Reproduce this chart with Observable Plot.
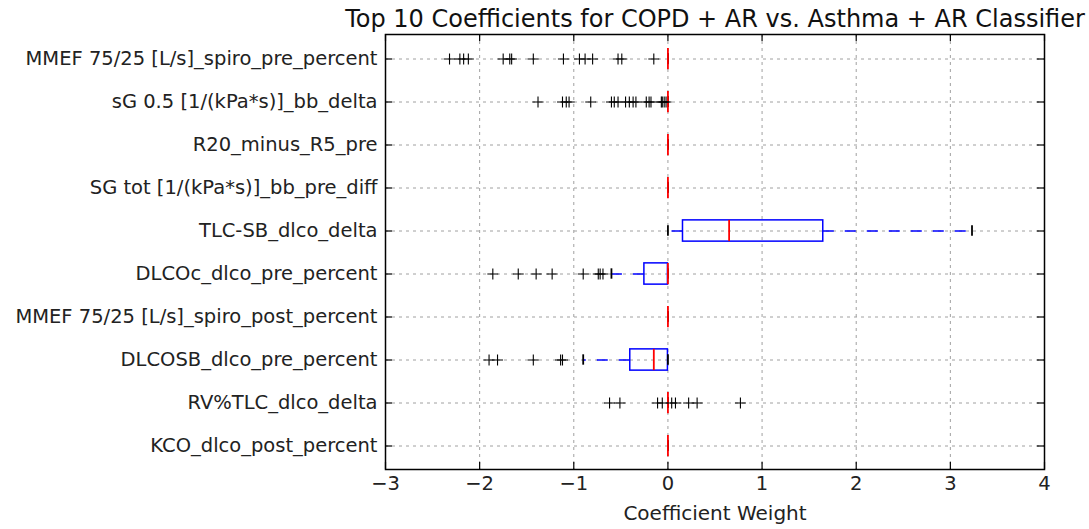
<!DOCTYPE html>
<html>
<head>
<meta charset="utf-8">
<script src="https://cdn.jsdelivr.net/npm/d3@7"></script>
<script src="https://cdn.jsdelivr.net/npm/@observablehq/plot@0.6"></script>
<style>
  html, body { margin: 0; padding: 0; background: #fff; }
</style>
</head>
<body>
<div id="chart"></div>
<script>
const categories = [
  "MMEF 75/25 [L/s]_spiro_pre_percent",
  "sG 0.5 [1/(kPa*s)]_bb_delta",
  "R20_minus_R5_pre",
  "SG tot [1/(kPa*s)]_bb_pre_diff",
  "TLC-SB_dlco_delta",
  "DLCOc_dlco_pre_percent",
  "MMEF 75/25 [L/s]_spiro_post_percent",
  "DLCOSB_dlco_pre_percent",
  "RV%TLC_dlco_delta",
  "KCO_dlco_post_percent"
];
const q1        = [0, 0, 0, 0, 0.16, -0.25, 0, -0.40, 0, 0];
const medians   = [0, 0, 0, 0, 0.65,  0,    0, -0.15, 0, 0];
const q3        = [0, 0, 0, 0, 1.65,  0,    0,  0,    0, 0];
const whiskerLo = [0, 0, 0, 0, 0.00, -0.60, 0, -0.90, 0, 0];
const whiskerHi = [0, 0, 0, 0, 3.23,  0,    0,  0,    0, 0];
const outliers = [
  [-2.32, -2.21, -2.17, -2.12, -1.75, -1.68, -1.66, -1.43, -1.11, -0.94, -0.88, -0.80, -0.53, -0.49, -0.15],
  [-1.38, -1.12, -1.08, -1.05, -0.82, -0.60, -0.57, -0.53, -0.45, -0.41, -0.37, -0.34, -0.23, -0.20, -0.18, -0.07, -0.06, -0.04, -0.02],
  [],
  [],
  [],
  [-1.86, -1.59, -1.40, -1.23, -0.90, -0.74, -0.72, -0.69],
  [],
  [-1.90, -1.81, -1.43, -1.14, -1.12],
  [-0.62, -0.51, -0.11, -0.06, 0.04, 0.08, 0.22, 0.31, 0.77],
  []
];
const xTicks = [-3, -2, -1, 0, 1, 2, 3, 4];
const titleText = "Top 10 Coefficients for COPD + AR vs. Asthma + AR Classifier";
const xLabel = "Coefficient Weight";

const boxes = categories.map((c, i) => ({
  cat: c, q1: q1[i], med: medians[i], q3: q3[i], lo: whiskerLo[i], hi: whiskerHi[i]
}));
const fliers = categories.flatMap((c, i) => outliers[i].map(v => ({cat: c, value: v})));

const W = 1089, H = 529;
const mL = 385, mR = 45, mT = 34, mB = 60;
const frameW = W - mL - mR, frameH = H - mT - mB;
const band = frameH / categories.length;
const boxInset = (band - band * 0.5) / 2;
const capInset = (band - band * 0.25) / 2;
const tickLen = 7;

const plusSymbol = {
  draw(ctx, size) {
    const r = Math.sqrt(size / Math.PI);
    ctx.moveTo(-r, 0); ctx.lineTo(r, 0);
    ctx.moveTo(0, -r); ctx.lineTo(0, r);
  }
};

const fmt = d => d < 0 ? "\u2212" + Math.abs(d) : String(d);

const chart = Plot.plot({
  width: W,
  height: H,
  marginLeft: mL,
  marginRight: mR,
  marginTop: mT,
  marginBottom: mB,
  style: {fontFamily: "DejaVu Sans", fontSize: "19.5px", color: "#222", background: "#fff"},
  x: {domain: [-3, 4]},
  y: {domain: categories, padding: 0},
  marks: [
    // grid
    Plot.ruleX(xTicks, {x: d => d, stroke: "#a0a0a0", strokeDasharray: "3,4", strokeWidth: 1}),
    Plot.ruleY(categories, {y: d => d, stroke: "#a0a0a0", strokeDasharray: "3,4", strokeWidth: 1}),
    // axes labels
    Plot.axisX(xTicks, {anchor: "bottom", tickSize: 0, tickPadding: 7, tickFormat: fmt, label: null, fill: "#222", fontSize: 19.5}),
    Plot.axisY({anchor: "left", tickSize: 0, tickPadding: 8, label: null, fill: "#222", fontSize: 19.5}),
    // inward ticks
    Plot.tickX(xTicks, {x: d => d, insetTop: frameH - tickLen, stroke: "black", strokeWidth: 1.2}),
    Plot.tickX(xTicks, {x: d => d, insetBottom: frameH - tickLen, stroke: "black", strokeWidth: 1.2}),
    Plot.tickY(categories, {y: d => d, insetRight: frameW - tickLen, stroke: "black", strokeWidth: 1.2}),
    Plot.tickY(categories, {y: d => d, insetLeft: frameW - tickLen, stroke: "black", strokeWidth: 1.2}),
    // boxes
    Plot.barX(boxes, {x1: "q1", x2: "q3", y: "cat", fill: "none", stroke: "blue", strokeWidth: 1.5, insetTop: boxInset, insetBottom: boxInset}),
    // whiskers
    Plot.ruleY(boxes, {x1: "q1", x2: "lo", y: "cat", stroke: "blue", strokeWidth: 1.5, strokeDasharray: "11,11"}),
    Plot.ruleY(boxes, {x1: "q3", x2: "hi", y: "cat", stroke: "blue", strokeWidth: 1.5, strokeDasharray: "11,11"}),
    // caps
    Plot.tickX(boxes, {x: "lo", y: "cat", stroke: "black", strokeWidth: 1.8, insetTop: capInset, insetBottom: capInset}),
    Plot.tickX(boxes, {x: "hi", y: "cat", stroke: "black", strokeWidth: 1.8, insetTop: capInset, insetBottom: capInset}),
    // medians
    Plot.tickX(boxes, {x: "med", y: "cat", stroke: "red", strokeWidth: 1.8, insetTop: boxInset, insetBottom: boxInset}),
    // fliers
    Plot.dot(fliers, {x: "value", y: "cat", symbol: plusSymbol, r: 5.5, stroke: "black", fill: "none", strokeWidth: 1.1}),
    // frame
    Plot.frame({stroke: "black", strokeWidth: 1.5}),
    // title and x label
    Plot.text([titleText], {frameAnchor: "top", dy: -8, lineAnchor: "bottom", fontSize: 24, fill: "#111"}),
    Plot.text([xLabel], {frameAnchor: "bottom", dy: 36, lineAnchor: "top", fontSize: 20, fill: "#222"})
  ]
});
document.getElementById("chart").appendChild(chart);
</script>
</body>
</html>
